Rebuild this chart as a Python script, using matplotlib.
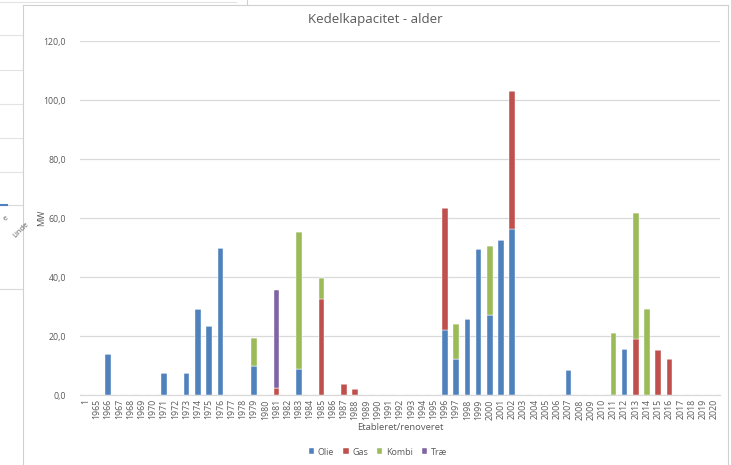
import matplotlib
matplotlib.use("Agg")
import matplotlib.pyplot as plt
from matplotlib.lines import Line2D
from matplotlib.ticker import FuncFormatter

# categories on the x axis ("1" is a stray first category in the source sheet)
labels = ['1'] + [str(y) for y in range(1965, 2021)]

# MW per year
olie = {'1966': 14.0, '1971': 7.5, '1973': 7.6, '1974': 29.3, '1975': 23.5,
        '1976': 49.7, '1979': 9.8, '1983': 8.8, '1996': 22.2, '1997': 12.2,
        '1998': 25.9, '1999': 49.4, '2000': 27.1, '2001': 52.4, '2002': 56.2,
        '2007': 8.6, '2012': 15.6}
gas = {'1981': 2.3, '1985': 32.4, '1987': 3.7, '1988': 2.0, '1996': 41.1,
       '2002': 47.0, '2013': 18.9, '2015': 15.1, '2016': 12.1}
kombi = {'1979': 9.4, '1983': 46.6, '1985': 7.3, '1997': 11.9, '2000': 23.4,
         '2011': 21.0, '2013': 42.9, '2014': 29.2}
trae = {'1981': 33.3}

series = [('Olie', olie, '#4F81BD'),
          ('Gas', gas, '#C0504D'),
          ('Kombi', kombi, '#9BBB59'),
          ('Træ', trae, '#8064A2')]

TXT = '#595959'
GRID = '#D9D9D9'
plt.rcParams['font.family'] = ['Open Sans', 'DejaVu Sans']

W, H = 731, 465
fig = plt.figure(figsize=(W / 100, H / 100), dpi=100)


def px_line(xs, ys, color='#D9D9D9', lw=0.8):
    # helper for the screenshot frame / neighbouring chart remnants (pixel coords)
    fig.add_artist(Line2D([x / W for x in xs], [1 - y / H for y in ys],
                          color=color, lw=lw, transform=fig.transFigure))


# remnants of the neighbouring chart on the left of the screenshot
px_line([0, 236], [2, 2], '#E3E3E3')
px_line([247, 247], [0, 5], '#D0D0D0')
for gy in [35, 70, 104, 138, 172]:
    px_line([0, 22], [gy, gy], '#E3E3E3')
px_line([0, 22], [205, 205], '#D9D9D9')
px_line([0, 7], [205, 205], '#4F81BD', lw=1.5)
px_line([0, 22], [289, 289], '#D9D9D9')
fig.text(2 / W, 1 - 218 / H, 'e', rotation=45, fontsize=5.5, color=TXT,
         ha='left', va='center')
fig.text(12 / W, 1 - 230 / H, 'Linde', rotation=45, fontsize=5.5, color=TXT,
         ha='left', va='center')

# frame of the main chart area
px_line([23, 23], [5, 465], '#D0D0D0')
px_line([23, 728], [5, 5], '#D0D0D0')
px_line([728, 728], [5, 465], '#D0D0D0')

ax = fig.add_axes([80 / W, 1 - 395 / H, 640 / W, 354 / H])

x = list(range(len(labels)))
bottom = [0.0] * len(labels)
for name, data, color in series:
    vals = [data.get(l, 0.0) for l in labels]
    ax.bar(x, vals, width=0.5, bottom=bottom, color=color, label=name,
           edgecolor='white', linewidth=0.3, zorder=3)
    bottom = [b + v for b, v in zip(bottom, vals)]

ax.set_xlim(-0.5, len(labels) - 0.5)
ax.set_ylim(0, 120)
ax.set_yticks(range(0, 121, 20))
ax.yaxis.set_major_formatter(FuncFormatter(lambda v, p: f'{v:.1f}'.replace('.', ',')))
ax.set_xticks(x)
ax.set_xticklabels(labels, rotation=90)
ax.grid(axis='y', color=GRID, lw=0.9, zorder=0)
for s in ['top', 'right', 'left']:
    ax.spines[s].set_visible(False)
ax.spines['bottom'].set_color(GRID)
ax.spines['bottom'].set_linewidth(0.9)
ax.tick_params(axis='both', length=0, colors=TXT, labelsize=6.3)
ax.tick_params(axis='y', pad=10)
ax.tick_params(axis='x', pad=3)

fig.text(375 / W, 1 - 20 / H, 'Kedelkapacitet - alder', ha='center', va='center',
         fontsize=9.5, color=TXT)
fig.text(42 / W, 1 - 218 / H, 'MW', rotation=90, ha='center', va='center',
         fontsize=6.5, color=TXT)
fig.text(400 / W, 1 - 427 / H, 'Etableret/renoveret', ha='center', va='center',
         fontsize=6.8, color=TXT)

fig.legend(loc='center', bbox_to_anchor=(378 / W, 1 - 452 / H), ncol=4,
           frameon=False, fontsize=6.5, labelcolor=TXT, handlelength=0.6,
           handleheight=0.6, handletextpad=0.4, columnspacing=1.0)

fig.savefig('out.png', dpi=100, facecolor='white')
